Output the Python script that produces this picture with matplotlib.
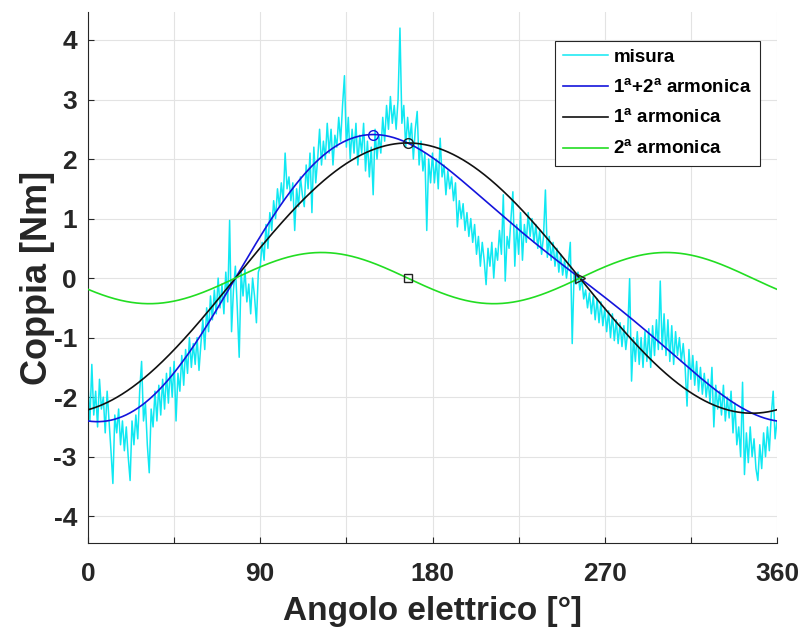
import numpy as np
import matplotlib
matplotlib.use("Agg")
import matplotlib.pyplot as plt
from matplotlib.ticker import FixedLocator

plt.rcParams['font.family'] = ['Liberation Sans', 'DejaVu Sans']
plt.rcParams['font.weight'] = 'bold'
plt.rcParams['axes.unicode_minus'] = False
plt.rcParams['mathtext.fontset'] = 'custom'
plt.rcParams['mathtext.rm'] = 'Liberation Sans:bold'
plt.rcParams['mathtext.bf'] = 'Liberation Sans:bold'

# ---------------- data ----------------
angle_meas = list(range(0, 361))
torque_meas = [
    -1.8, -2.4, -1.45, -2.3, -1.9, -2.5, -1.7, -2.2, -2.0, -2.6,
    -1.9, -2.4, -2.9, -3.45, -2.3, -2.6, -2.2, -2.8, -2.4, -2.9,
    -2.5, -3.0, -3.4, -2.4, -2.8, -2.3, -2.7, -1.9, -1.4, -2.4,
    -2.1, -2.8, -3.27, -2.2, -2.5, -1.9, -2.4, -1.8, -2.3, -1.7,
    -2.2, -1.6, -2.1, -1.5, -2.0, -1.4, -2.4, -1.6, -1.9, -1.3,
    -1.8, -1.2, -1.6, -1.0, -1.5, -1.1, -1.45, -1.0, -1.55, -1.1,
    -0.7, -1.2, -0.5, -0.9, -0.3, -0.7, -0.2, -0.6, 0.0, -0.5,
    -0.1, -0.6, 0.1, -0.4, 0.97, -0.9, -0.2, 0.2, -0.5, -1.33,
    0.1, -0.3, 0.15, -0.4, -0.1, -0.6, 0.0, -0.3, -0.75, 0.1,
    0.2, 0.6, 0.3, 0.9, 0.5, 1.1, 0.8, 1.3, 1.0, 1.5,
    1.2, 1.6, 1.3, 2.1, 1.5, 1.7, 1.3, 1.6, 0.8, 1.5,
    1.2, 1.7, 1.4, 1.2, 1.9, 1.5, 2.1, 1.1, 2.2, 1.6,
    2.0, 2.5, 1.9, 2.3, 2.0, 2.6, 2.1, 2.5, 1.9, 2.4,
    2.2, 2.7, 2.3, 2.9, 3.4, 2.2, 2.7, 2.0, 2.5, 2.1,
    2.6, 1.9, 2.4, 2.1, 2.6, 1.8, 2.3, 1.7, 2.2, 1.4,
    2.5, 2.0, 2.4, 2.1, 2.7, 2.3, 2.9, 2.5, 3.05, 2.6,
    2.9, 2.5, 3.0, 4.2, 2.6, 2.9, 2.2, 2.7, 2.3, 2.6,
    2.0, 2.5, 2.8, 1.9, 2.3, 1.8, 2.1, 0.8, 2.0, 1.6,
    2.1, 1.6, 2.0, 1.5, 2.35, 1.7, 1.9, 1.4, 1.8, 1.5,
    1.7, 1.3, 1.6, 0.86, 1.3, 1.0, 1.25, 0.8, 1.1, 0.7,
    1.0, 0.6, 0.9, 0.4, 0.7, 0.2, 0.6, 0.3, -0.11, 0.5,
    0.2, 0.6, 0.0, 0.5, 0.3, 0.8, 0.4, 1.4, -0.05, 0.7,
    0.5, 1.0, 1.45, 0.2, 0.9, 0.4, 1.1, 0.3, 0.9, 0.6,
    1.1, 0.7, 1.0, 0.6, 0.9, 0.5, 0.8, 0.4, 0.7, 1.48,
    0.35, 0.7, 0.3, 0.6, 0.2, 0.5, 0.1, 0.4, 0.05, 0.3,
    0.0, 0.25, 0.6, -1.1, 0.1, -0.1, 0.1, -0.2, 0.0, -0.35,
    -0.2, -0.5, -0.25, -0.6, -0.3, -0.7, -0.35, -0.75, -0.4, -0.8,
    -0.5, -0.9, -0.55, -1.0, -0.6, -1.05, -0.7, -1.1, -0.75, -1.15,
    -0.8, -1.2, -0.9, -0.01, -1.73, -1.0, -1.4, -0.9, -1.45, -1.0,
    -1.5, -0.9, -1.4, -0.85, -1.5, -0.8, -1.3, -0.7, -1.2, -0.05,
    -1.2, -0.6, -1.3, -0.7, -1.4, -0.8, -1.45, -0.9, -1.3, -1.0,
    -1.4, -1.1, -1.5, -2.15, -1.2, -1.7, -1.3, -1.8, -1.4, -1.9,
    -1.5, -1.95, -1.6, -2.0, -1.7, -2.1, -1.5, -2.5, -1.8, -2.2,
    -1.9, -2.3, -1.8, -2.4, -2.0, -2.35, -1.9, -2.6, -2.1, -2.8,
    -2.5, -3.0, -1.75, -3.3, -2.6, -3.1, -2.5, -3.0, -2.7, -3.2,
    -3.4, -2.8, -3.2, -2.6, -3.0, -2.5, -2.9, -2.3, -1.9, -2.7, -2.4,
]

# harmonic fit parameters (amplitude [Nm], rising zero-crossing [deg])
harm1_amp = 2.27
harm1_phase = 77.0
harm2_amp = 0.43
harm2_phase = 77.0

x_ticks_major = [0, 90, 180, 270, 360]
x_ticks_minor = [45, 135, 225, 315]
y_ticks = [-4, -3, -2, -1, 0, 1, 2, 3, 4]

legend_labels = ['misura',
                 r'1$^{\mathbf{a}}$+2$^{\mathbf{a}}$ armonica',
                 r'1$^{\mathbf{a}}$ armonica',
                 r'2$^{\mathbf{a}}$ armonica']

# ---------------- curves from harmonic parameters ----------------
theta = np.linspace(0, 360, 1441)
h1 = harm1_amp * np.sin(np.radians(theta - harm1_phase))
h2 = harm2_amp * np.sin(np.radians(2 * (theta - harm2_phase)))
hs = h1 + h2

i_max_sum = int(np.argmax(hs))
i_max_h1 = int(np.argmax(h1))
i_zero = int(np.argmin(np.abs(theta - (harm1_phase + 180))))

# ---------------- figure ----------------
fig = plt.figure(figsize=(8.03, 6.28), dpi=100)
ax = fig.add_axes([88 / 803, 1 - 543 / 628, (777 - 88) / 803, (543 - 12) / 628])

ax.plot(angle_meas, torque_meas, color='#10e8f2', lw=1.1, label=legend_labels[0], zorder=2)
ax.plot(theta, hs, color='#1414dc', lw=1.2, label=legend_labels[1], zorder=3)
ax.plot(theta, h1, color='#111111', lw=1.2, label=legend_labels[2], zorder=3)
ax.plot(theta, h2, color='#22dd22', lw=1.2, label=legend_labels[3], zorder=3)

ax.plot(theta[i_max_sum], hs[i_max_sum], 'o', mfc='none', mec='#1414dc', ms=7, mew=1.0, zorder=4)
ax.plot(theta[i_max_h1], h1[i_max_h1], 'o', mfc='none', mec='#222222', ms=7, mew=1.0, zorder=4)
ax.plot(theta[i_max_h1], h2[i_max_h1], 's', mfc='none', mec='#222222', ms=6, mew=1.0, zorder=4)
ax.plot(theta[i_zero], h1[i_zero], '>', mfc='none', mec='#222222', ms=7, mew=1.0, zorder=4)

ax.set_xlim(0, 360)
ax.set_ylim(-4.45, 4.47)
ax.xaxis.set_major_locator(FixedLocator(x_ticks_major))
ax.xaxis.set_minor_locator(FixedLocator(x_ticks_minor))
ax.yaxis.set_major_locator(FixedLocator(y_ticks))
ax.set_xticklabels([str(v) for v in x_ticks_major])
ax.set_yticklabels([str(v) for v in y_ticks])

ax.grid(True, which='both', color='#e3e3e3', lw=0.8, zorder=0)
ax.set_axisbelow(True)
for s in ['top', 'right']:
    ax.spines[s].set_visible(False)
for s in ['left', 'bottom']:
    ax.spines[s].set_color('#262626')
    ax.spines[s].set_linewidth(0.8)

ax.tick_params(axis='both', which='both', direction='in', length=4.5, width=0.8,
               colors='#262626', labelsize=19)
ax.tick_params(axis='x', which='both', pad=14)
ax.tick_params(axis='y', which='both', pad=8)
for lab in ax.get_xticklabels() + ax.get_yticklabels():
    lab.set_color('#262626')
    lab.set_fontweight('bold')

ax.set_xlabel('Angolo elettrico [°]', fontsize=24, fontweight='bold', color='#262626', labelpad=7)
ax.set_ylabel('Coppia [Nm]', fontsize=26, fontweight='bold', color='#262626', labelpad=-1)

leg = ax.legend(loc='upper left', bbox_to_anchor=((555 - 88) / 689, (543 - 41) / 531),
                borderaxespad=0, fancybox=False, framealpha=1, edgecolor='#262626',
                prop={'family': 'Liberation Sans', 'weight': 'bold', 'size': 13.5},
                handlelength=2.4, handletextpad=0.3, labelspacing=0.64, borderpad=0.42)
leg.get_frame().set_linewidth(0.8)

fig.savefig('out.png', dpi=100)
